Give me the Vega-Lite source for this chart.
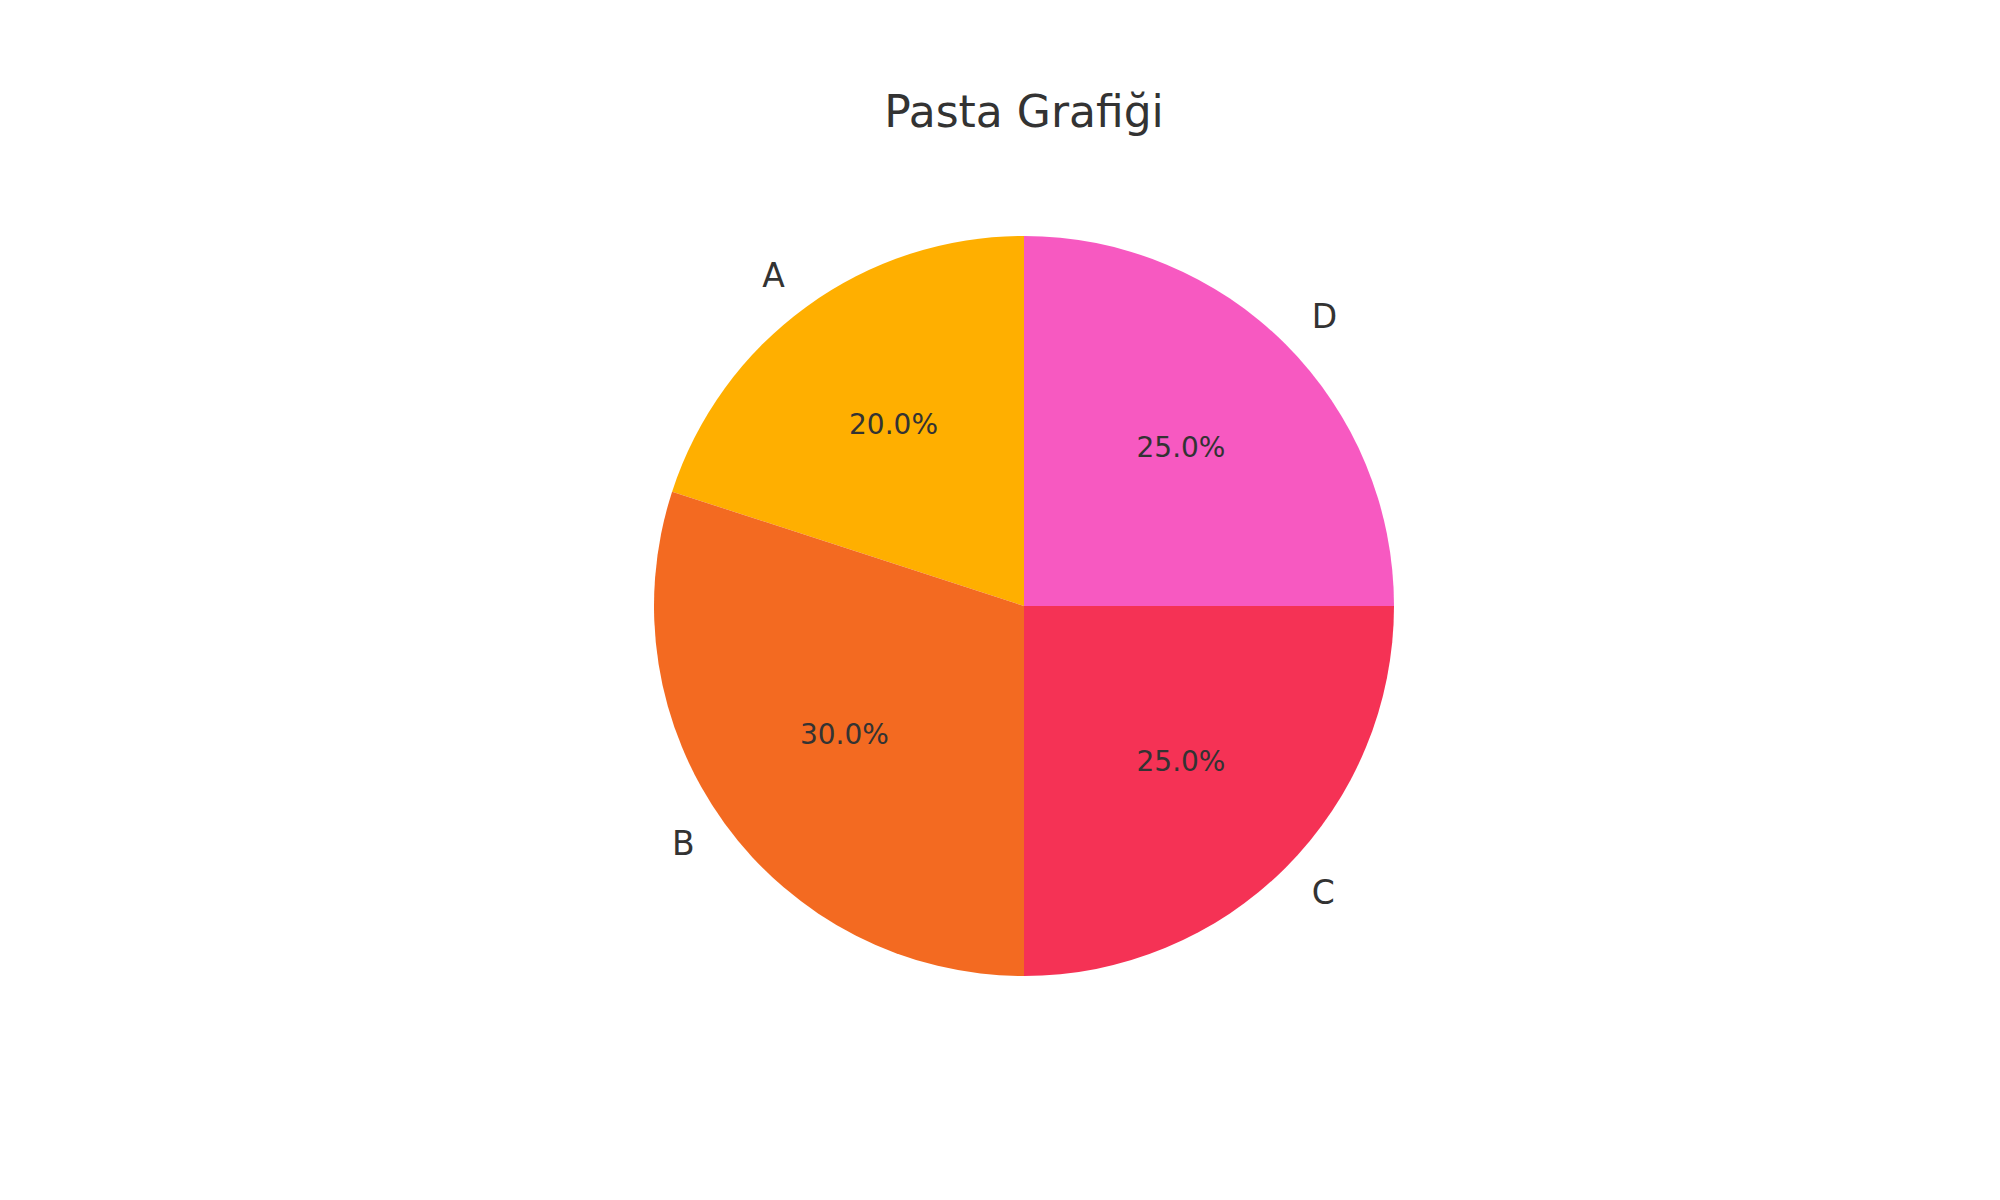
{
  "$schema": "https://vega.github.io/schema/vega-lite/v6.json",
  "width": 1952,
  "height": 1188,
  "autosize": {"type": "none"},
  "padding": {"left": 48, "top": 12, "right": 0, "bottom": 0},
  "background": "white",
  "config": {"view": {"stroke": null}},
  "title": {
    "text": "Pasta Grafiği",
    "font": "DejaVu Sans",
    "fontSize": 44,
    "fontWeight": "normal",
    "color": "#333333",
    "anchor": "middle",
    "orient": "top",
    "baseline": "middle",
    "offset": 0,
    "dy": 146
  },
  "data": {
    "values": [
      {"category": "A", "share": 0.20},
      {"category": "B", "share": 0.30},
      {"category": "C", "share": 0.25},
      {"category": "D", "share": 0.25}
    ]
  },
  "encoding": {
    "theta": {"field": "share", "type": "quantitative", "stack": true},
    "order": {"field": "category", "sort": "descending"}
  },
  "layer": [
    {
      "mark": {"type": "arc", "radius": 370},
      "encoding": {
        "color": {
          "field": "category",
          "type": "nominal",
          "scale": {"domain": ["A", "B", "C", "D"], "range": ["#FFAF00", "#F36A21", "#F53255", "#F759C1"]},
          "legend": null
        }
      }
    },
    {
      "mark": {"type": "text", "radius": 222, "font": "DejaVu Sans", "fontSize": 28, "color": "#333333", "align": "center", "baseline": "middle"},
      "encoding": {
        "text": {"field": "share", "type": "quantitative", "format": ".1%"}
      }
    },
    {
      "mark": {"type": "text", "radius": 407, "font": "DejaVu Sans", "fontSize": 33, "color": "#333333", "align": {"expr": "datum.category == 'A' || datum.category == 'B' ? 'right' : 'left'"}, "baseline": "middle"},
      "encoding": {
        "text": {"field": "category", "type": "nominal"}
      }
    }
  ]
}
